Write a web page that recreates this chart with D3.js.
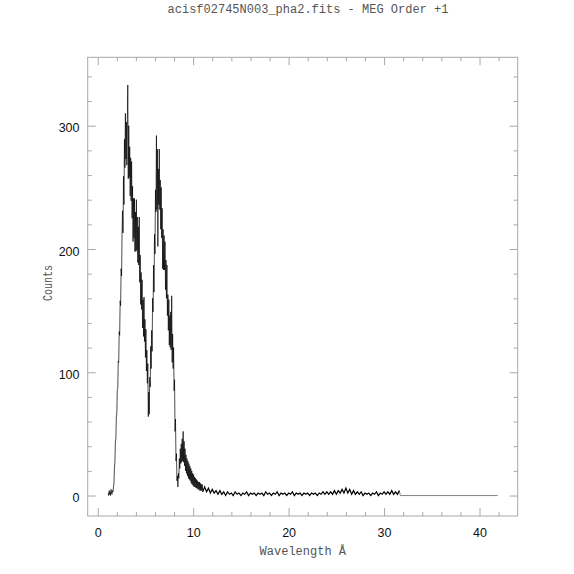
<!DOCTYPE html>
<html>
<head>
<meta charset="utf-8">
<script src="https://cdn.jsdelivr.net/npm/d3@7"></script>
<style>
  body { margin: 0; background: #fff; }
  .tick line { stroke: #a8a8a8; }
  .tick text { font-family: "Liberation Sans", Arial, sans-serif; font-size: 12.5px; fill: #111; }
  .ttl { font-family: "Liberation Mono", "DejaVu Sans Mono", monospace; font-size: 12px; fill: #555; }
</style>
</head>
<body>
<div class="specviz"></div>
<script>
// Spectrum bins (wavelength in Angstrom, counts per bin)
var wavelength = [
  1.10,1.15,1.20,1.25,1.30,1.35,1.40,1.45,1.50,1.55,
  1.60,1.65,1.70,1.75,1.80,1.85,1.90,1.95,
  2.00,2.05,2.10,2.15,2.20,2.25,2.30,2.35,2.40,2.45,2.50,2.55,2.60,2.65,2.70,2.75,2.80,2.85,2.90,2.95,
  3.00,3.05,3.10,3.15,3.20,3.25,3.30,3.35,3.40,3.45,3.50,3.55,3.60,3.65,3.70,3.75,3.80,3.85,3.90,3.95,
  4.00,4.05,4.10,4.15,4.20,4.25,4.30,4.35,4.40,4.45,4.50,4.55,4.60,4.65,4.70,4.75,4.80,4.85,4.90,4.95,
  5.00,5.05,5.10,5.15,5.20,5.25,5.30,5.35,5.40,5.45,5.50,5.55,5.60,5.65,5.70,5.75,5.80,5.85,5.90,5.95,
  6.00,6.05,6.10,6.15,6.20,6.25,6.30,6.35,6.40,6.45,6.50,6.55,6.60,6.65,6.70,6.75,6.80,6.85,6.90,6.95,
  7.00,7.05,7.10,7.15,7.20,7.25,7.30,7.35,7.40,7.45,7.50,7.55,7.60,7.65,7.70,7.75,7.80,7.85,7.90,7.95,
  8.00,8.05,8.10,8.15,8.20,8.25,8.30,8.35,8.40,8.45,8.50,8.55,8.60,8.65,8.70,8.75,8.80,8.85,8.90,8.95,
  9.00,9.05,9.10,9.15,9.20,9.25,9.30,9.35,9.40,9.45,9.50,9.55,9.60,9.65,9.70,9.75,9.80,9.85,9.90,9.95,
  10.00,10.05,10.10,10.15,10.20,10.25,10.30,10.35,10.40,10.45,10.50,10.55,10.60,10.65,10.70,10.75,10.80,10.85,10.90,10.95,
  11.00]
var counts = [
  2,0,4,1,3,0,5,2,1,4,
  3,7,10,23,27,44,46,64,
  66,86,87,109,108,133,130,158,154,184,178,213,231,213,259,236,289,266,310,273,
  303,268,305,333,257,300,258,283,243,274,239,271,225,251,206,241,209,241,198,230,
  198,240,199,226,189,218,187,226,173,195,155,181,151,175,136,159,129,161,125,143,
  112,135,101,118,91,107,64,84,66,96,88,121,103,134,117,160,149,187,165,212,
  196,248,230,292,232,281,202,265,236,281,232,256,216,250,209,233,184,216,183,211,
  183,206,167,191,160,187,146,163,134,159,122,146,120,149,118,162,108,131,103,120,
  85,94,52,62,28,34,12,16,7,18,14,30,22,38,26,42,27,46,28,52,
  27,44,24,38,20,33,18,30,16,28,14,26,13,24,12,22,10,20,9,18,
  8,17,7,15,7,14,6,13,6,12,5,11,5,11,4,10,4,9,4,9,
  3]

// long wavelength tail, coarser bins
var tailWavelength = [
  11.0,11.2,11.4,11.6,11.8,12.0,12.2,12.4,12.6,12.8,13.0,
  13.2,13.4,13.6,13.8,14.0,14.2,14.4,14.6,14.8,15.0,
  15.2,15.4,15.6,15.8,16.0,16.2,16.4,16.6,16.8,17.0,
  17.2,17.4,17.6,17.8,18.0,18.2,18.4,18.6,18.8,19.0,
  19.2,19.4,19.6,19.8,20.0,20.2,20.4,20.6,20.8,21.0,
  21.2,21.4,21.6,21.8,22.0,22.2,22.4,22.6,22.8,23.0,
  23.2,23.4,23.6,23.8,24.0,24.2,24.4,24.6,24.8,25.0,
  25.2,25.4,25.6,25.8,26.0,26.2,26.4,26.6,26.8,27.0,
  27.2,27.4,27.6,27.8,28.0,28.2,28.4,28.6,28.8,29.0,
  29.2,29.4,29.6,29.8,30.0,30.2,30.4,30.6,30.8,31.0,
  31.2,31.4,31.6]
var tailCounts = [
  3,7,3,6,2,5,2,4,1,4,1,
  3,0,3,1,2,0,3,1,2,0,
  2,1,3,0,2,1,2,0,2,1,
  2,0,3,1,2,0,2,1,3,0,
  2,1,2,0,2,1,3,0,2,1,
  2,0,2,1,2,0,2,1,2,0,
  2,1,3,1,3,1,3,1,4,1,
  4,2,5,2,6,2,5,1,4,1,
  3,1,3,0,2,1,2,0,2,1,
  3,0,2,1,3,1,3,1,4,1,
  3,1,4]

// empty bins beyond the last detected photon
var emptyWavelength = [31.6, 31.7, 41.9]
var emptyCounts = [4, 0, 0]

var xMajor = [0, 10, 20, 30, 40]
var xMinor = [2,4,6,8,12,14,16,18,22,24,26,28,32,34,36,38,42]
var yMajor = [0, 100, 200, 300]
var yMinor = [20,40,60,80,120,140,160,180,220,240,260,280,320,340]

var titleText = "acisf02745N003_pha2.fits - MEG Order +1"
var xTitle = "Wavelength \u00c5"
var yTitle = "Counts"

var spec_margin = { top: 57.3, right: 56.3, bottom: 58, left: 87.7 },
    width = 574 - spec_margin.left - spec_margin.right,
    height = 574 - spec_margin.top - spec_margin.bottom;

var root = d3.select(".specviz")
    .append("svg")
    .attr("width", 574)
    .attr("height", 574);

var svg = root.append("g")
    .attr("transform", "translate(" + spec_margin.left + "," + spec_margin.top + ")");

var x = d3.scaleLinear().domain([-1.05, 44.0]).range([0, width])
var y = d3.scaleLinear().domain([-16.6, 355.5]).range([height, 0])

var axisGray = "#a8a8a8"

function styleAxis(g) {
    g.select(".domain").remove()
    g.selectAll(".tick line").attr("stroke", axisGray)
}

// major + minor ticks on all four sides, pointing inward
svg.append("g")
    .attr("transform", "translate(0," + height + ")")
    .call(d3.axisBottom(x).tickValues(xMajor).tickSize(-8).tickPadding(11.7).tickFormat(d3.format("d")))
    .call(styleAxis)
svg.append("g")
    .attr("transform", "translate(0," + height + ")")
    .call(d3.axisBottom(x).tickValues(xMinor).tickSize(-4).tickFormat(""))
    .call(styleAxis)
svg.append("g")
    .call(d3.axisTop(x).tickValues(xMajor).tickSize(-8).tickFormat(""))
    .call(styleAxis)
svg.append("g")
    .call(d3.axisTop(x).tickValues(xMinor).tickSize(-4).tickFormat(""))
    .call(styleAxis)

svg.append("g")
    .call(d3.axisLeft(y).tickValues(yMajor).tickSize(-8).tickPadding(8.2).tickFormat(d3.format("d")))
    .call(styleAxis)
    .call(g => g.selectAll(".tick text").attr("dy", "0.5em"))
svg.append("g")
    .call(d3.axisLeft(y).tickValues(yMinor).tickSize(-4).tickFormat(""))
    .call(styleAxis)
svg.append("g")
    .attr("transform", "translate(" + width + ",0)")
    .call(d3.axisRight(y).tickValues(yMajor).tickSize(-8).tickFormat(""))
    .call(styleAxis)
svg.append("g")
    .attr("transform", "translate(" + width + ",0)")
    .call(d3.axisRight(y).tickValues(yMinor).tickSize(-4).tickFormat(""))
    .call(styleAxis)

// frame
svg.append("rect")
    .attr("width", width)
    .attr("height", height)
    .attr("fill", "none")
    .attr("stroke", axisGray)
    .attr("stroke-width", 1)

// spectrum
var line = d3.line()
    .x(function (d) { return x(d[0]) })
    .y(function (d) { return y(d[1]) })

svg.append("path")
    .datum(d3.zip(emptyWavelength, emptyCounts))
    .attr("d", line)
    .attr("fill", "none")
    .attr("stroke", "#666")
    .attr("stroke-width", 0.8)

svg.append("path")
    .datum(d3.zip(tailWavelength, tailCounts))
    .attr("d", line)
    .attr("fill", "none")
    .attr("stroke", "#000")
    .attr("stroke-width", 1.2)

svg.append("path")
    .datum(d3.zip(wavelength, counts))
    .attr("d", line)
    .attr("fill", "none")
    .attr("stroke", "#000")
    .attr("stroke-width", 0.7)

// titles
root.append("text")
    .attr("class", "ttl")
    .attr("x", 308)
    .attr("y", 12.5)
    .attr("text-anchor", "middle")
    .text(titleText);

root.append("text")
    .attr("class", "ttl")
    .attr("x", 302.8)
    .attr("y", 554.5)
    .attr("text-anchor", "middle")
    .text(xTitle);

root.append("text")
    .attr("class", "ttl")
    .attr("transform", "translate(51.5,283) rotate(-90)")
    .attr("text-anchor", "middle")
    .attr("textLength", 36)
    .attr("lengthAdjust", "spacingAndGlyphs")
    .text(yTitle);
</script>
</body>
</html>
